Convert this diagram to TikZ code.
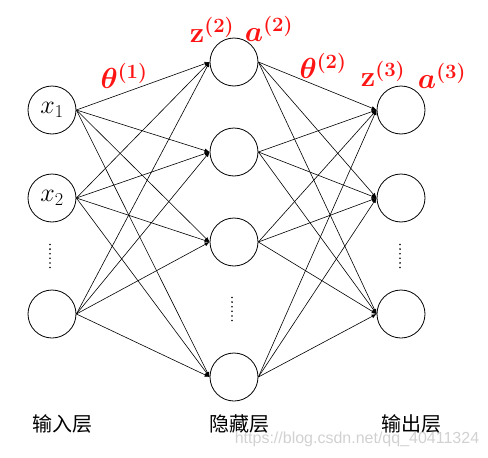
\RequirePackage{fix-cm}
\documentclass[tikz,border=0pt]{standalone}
\usepackage{fontspec}
\newfontfamily\cjk{Noto Sans CJK SC}
\newfontfamily\wm{Liberation Sans}
\usetikzlibrary{arrows.meta}
\definecolor{lblred}{RGB}{255,20,20}
\begin{document}
\begin{tikzpicture}[x=1pt,y=-1pt,
  neuron/.style={draw,circle,minimum size=48pt,inner sep=0pt,line width=0.8pt},
  conn/.style={-{Latex[length=5pt,width=4pt]},line width=0.6pt},
  lbl/.style={text=lblred,inner sep=0pt,font=\fontsize{29}{32}\selectfont\boldmath},
  layer/.style={font=\cjk\fontsize{20}{22}\selectfont},
  inlbl/.style={font=\fontsize{26}{28}\selectfont}]
\useasboundingbox (0,0) rectangle (488,458);
% input layer
\node[neuron,inlbl] (i1) at (52,110) {$x_1$};
\node[neuron,inlbl] (i2) at (52,198) {$x_2$};
\node[neuron] (i3) at (52,314) {};
% hidden layer
\node[neuron] (h1) at (234,62) {};
\node[neuron] (h2) at (234,152) {};
\node[neuron] (h3) at (234,242) {};
\node[neuron] (h4) at (234,377) {};
% output layer
\node[neuron] (o1) at (401,110) {};
\node[neuron] (o2) at (401,198) {};
\node[neuron] (o3) at (401,314) {};
% dots
\foreach \n/\x/\y in {d1/50/256,d2/232/309,d3/400/256}
  \node[inner sep=0pt] (\n) at (\x,\y) {\tikz[x=1pt,y=1pt]{\foreach \k in {0,...,5} \fill (0,\k*4.6) circle (0.9);}};
% connections
\foreach \a in {i1,i2,i3}
  \foreach \b in {h1,h2,h3,h4}
    \draw[conn] (\a.east) -- (\b.west);
\foreach \a in {h1,h2,h3,h4}
  \foreach \b in {o1,o2,o3}
    \draw[conn] (\a.east) -- (\b.west);
% labels
\node[lbl] (t1) at (124,76) {$\theta^{(1)}$};
\node[lbl] (z2) at (212,30) {$\mathbf{z}^{(2)}$};
\node[lbl] (a2) at (269,29) {$a^{(2)}$};
\node[lbl] (t2) at (323,66) {$\theta^{(2)}$};
\node[lbl] (z3) at (383,74) {$\mathbf{z}^{(3)}$};
\node[lbl] (a3) at (442,76) {$a^{(3)}$};
% layer names
\node[layer] (L1) at (62,424) {输入层};
\node[layer] (L2) at (239,424) {隐藏层};
\node[layer] (L3) at (411,424) {输出层};
% watermark
\node[font=\wm\fontsize{16}{18}\selectfont,text=black!18] (wmk) at (357,439) {https://blog.csdn.net/qq\_40411324};
\end{tikzpicture}
\end{document}
